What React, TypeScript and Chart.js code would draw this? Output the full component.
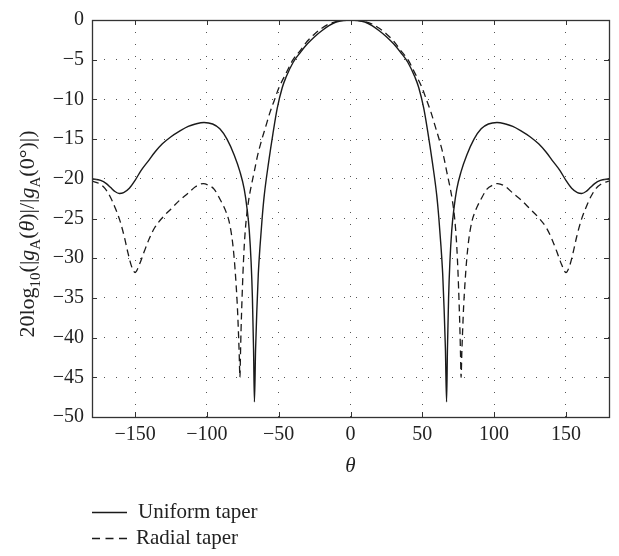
import React, { useEffect, useRef } from 'react';
import { Chart, registerables } from 'chart.js';

Chart.register(...registerables);

const xTickValues = [-150, -100, -50, 0, 50, 100, 150];
const yTickValues = [0, -5, -10, -15, -20, -25, -30, -35, -40, -45, -50];

const uniformTheta = [
  -180, -174, -170, -167, -164, -161, -158, -154, -150, -146, -141, -136, -131, -125, -119, -113, -108, -102,
  -96, -91, -86, -81, -77, -74, -72, -70.5, -69.2, -68.3, -67.5, -66.9, -66.1, -65.2, -64.2, -63, -61.5, -60,
  -57, -54, -51, -47.5, -45, -40, -35, -30, -25, -20, -15, -10, -5, 0,
  5, 10, 15, 20, 25, 30, 35, 40, 45, 47.5, 51, 54, 57, 60, 61.5, 63, 64.2, 65.2, 66.1, 66.9, 67.5, 68.3,
  69.2, 70.5, 72, 74, 77, 81, 86, 91, 96, 102, 108, 113, 119, 125, 131, 136, 141, 146, 150, 154, 158, 161,
  164, 167, 170, 174, 180,
];
const uniformDb = [
  -20.0, -20.2, -20.6, -21.1, -21.6, -21.85, -21.75, -21.2, -20.2, -19.0, -17.8, -16.6, -15.6, -14.7, -14.0, -13.4, -13.1, -12.9,
  -13.1, -13.7, -15.0, -17.0, -19.1, -21.3, -23.8, -26.5, -30.5, -35.0, -41.5, -48.1, -41.5, -36.5, -32.0, -28.5, -24.9, -22.0,
  -17.9, -14.3, -11.1, -8.5, -7.25, -5.35, -4.1, -3.0, -2.1, -1.35, -0.7, -0.25, -0.06, 0,
  -0.06, -0.25, -0.7, -1.35, -2.1, -3.0, -4.1, -5.35, -7.25, -8.5, -11.1, -14.3, -17.9, -22.0, -24.9, -28.5, -32.0, -36.5, -41.5, -48.1, -41.5, -35.0,
  -30.5, -26.5, -23.8, -21.3, -19.1, -17.0, -15.0, -13.7, -13.1, -12.9, -13.1, -13.4, -14.0, -14.7, -15.6, -16.6, -17.8, -19.0, -20.2, -21.2, -21.75, -21.85,
  -21.6, -21.1, -20.6, -20.2, -20.0,
];

const radialTheta = [
  -180, -175, -171, -167.5, -164, -160.5, -157.5, -155, -152.5, -150, -147, -143.5, -140, -136.5, -131, -125, -119, -113, -108, -102.5,
  -99, -95, -90.5, -88.5, -86.6, -84.5, -82.4, -80.9, -79.7, -78.8, -78.1, -77.5, -77.0, -76.6, -76.2, -75.6, -74.9, -74, -72.7, -71,
  -69, -67, -65, -62.3, -59, -56, -53, -50, -45, -40, -35, -30, -25, -20, -15, -10, -5, 0,
  5, 10, 15, 20, 25, 30, 35, 40, 45, 50, 53, 56, 59, 62.3, 65, 67, 69, 71, 72.7, 74, 74.9, 75.6, 76.2, 76.6, 77.0,
  77.5, 78.1, 78.8, 79.7, 80.9, 82.4, 84.5, 86.6, 88.5, 90.5, 95, 99, 102.5, 108, 113, 119, 125, 131, 136.5, 140,
  143.5, 147, 150, 152.5, 155, 157.5, 160.5, 164, 167.5, 171, 175, 180,
];
const radialDb = [
  -20.3, -20.6, -21.2, -22.2, -23.6, -25.3, -27.3, -29.3, -31.0, -31.8, -30.8, -29.1, -27.5, -26.2, -24.9, -23.8, -22.7, -21.8, -21.0, -20.6,
  -20.8, -21.3, -22.7, -23.4, -24.2, -25.4, -27.6, -30.2, -33.2, -36.0, -39.0, -42.0, -45.0, -42.0, -39.0, -35.5, -32.0, -28.5, -25.3, -22.8,
  -20.8, -19.1, -17.3, -15.4, -13.4, -11.6, -10.1, -8.6, -6.75, -5.0, -3.85, -2.65, -1.75, -1.05, -0.5, -0.2, -0.05, 0,
  -0.05, -0.2, -0.5, -1.05, -1.75, -2.65, -3.85, -5.0, -6.75, -8.6, -10.1, -11.6, -13.4, -15.4, -17.3, -19.1, -20.8, -22.8, -25.3, -28.5, -32.0, -35.5, -39.0, -42.0, -45.0,
  -42.0, -39.0, -36.0, -33.2, -30.2, -27.6, -25.4, -24.2, -23.4, -22.7, -21.3, -20.8, -20.6, -21.0, -21.8, -22.7, -23.8, -24.9, -26.2, -27.5,
  -29.1, -30.8, -31.8, -31.0, -29.3, -27.3, -25.3, -23.6, -22.2, -21.2, -20.6, -20.3,
];

const seriesNames = ['Uniform taper', 'Radial taper'];

const SERIF = '"Liberation Serif", "DejaVu Serif", serif';
const INK = '#222222';

const zip = (xs: number[], ys: number[]) => xs.map((x, i) => ({ x, y: ys[i] }));

const fmt = (v: number) => (v < 0 ? '\u2212' + Math.abs(v) : String(v));

const decorPlugin = {
  id: 'decor',
  afterDraw(chart: any) {
    const { ctx, chartArea: a, scales } = chart;
    const xs = scales.x;
    const ys = scales.y;
    ctx.save();
    // inner tick marks
    ctx.strokeStyle = '#333';
    ctx.lineWidth = 1;
    ctx.setLineDash([]);
    const tl = 5;
    ctx.beginPath();
    xTickValues.forEach((v) => {
      const px = Math.round(xs.getPixelForValue(v)) + 0.5;
      ctx.moveTo(px, a.bottom);
      ctx.lineTo(px, a.bottom - tl);
      ctx.moveTo(px, a.top);
      ctx.lineTo(px, a.top + tl);
    });
    yTickValues.forEach((v) => {
      const py = Math.round(ys.getPixelForValue(v)) + 0.5;
      ctx.moveTo(a.left, py);
      ctx.lineTo(a.left + tl, py);
      ctx.moveTo(a.right, py);
      ctx.lineTo(a.right - tl, py);
    });
    ctx.stroke();
    // frame
    ctx.strokeStyle = '#333';
    ctx.lineWidth = 1.3;
    ctx.strokeRect(Math.round(a.left) + 0.5, Math.round(a.top) + 0.5, Math.round(a.right - a.left), Math.round(a.bottom - a.top));

    ctx.fillStyle = INK;
    // x title
    ctx.font = `italic 21px ${SERIF}`;
    ctx.textAlign = 'center';
    ctx.textBaseline = 'middle';
    ctx.fillText('\u03b8', (a.left + a.right) / 2, 466);

    // y title (rotated, with subscripts)
    const size = 22;
    const subSize = Math.round(size * 0.7);
    const segs = [
      { t: '20log', s: 'n' },
      { t: '10', s: 'sub' },
      { t: '(|', s: 'n' },
      { t: 'g', s: 'i' },
      { t: 'A', s: 'sub' },
      { t: '(', s: 'n' },
      { t: '\u03b8', s: 'i' },
      { t: ')|/|', s: 'n' },
      { t: 'g', s: 'i' },
      { t: 'A', s: 'sub' },
      { t: '(0\u00b0)|)', s: 'n' },
    ];
    const fontFor = (s: string) =>
      s === 'sub' ? `${subSize}px ${SERIF}` : s === 'i' ? `italic ${size}px ${SERIF}` : `${size}px ${SERIF}`;
    let total = 0;
    const widths = segs.map((sg) => {
      ctx.font = fontFor(sg.s);
      const w = ctx.measureText(sg.t).width;
      total += w;
      return w;
    });
    ctx.save();
    ctx.translate(34, 234);
    ctx.rotate(-Math.PI / 2);
    ctx.textAlign = 'left';
    ctx.textBaseline = 'alphabetic';
    let u = -total / 2;
    segs.forEach((sg, i) => {
      ctx.font = fontFor(sg.s);
      ctx.fillText(sg.t, u, sg.s === 'sub' ? size * 0.28 : 0);
      u += widths[i];
    });
    ctx.restore();

    // legend
    const ds = chart.data.datasets;
    const rows = [512.5, 538.5];
    ds.forEach((d: any, i: number) => {
      const y = rows[i];
      ctx.beginPath();
      ctx.strokeStyle = d.borderColor;
      ctx.lineWidth = d.borderWidth;
      ctx.setLineDash(i === 1 ? [8, 5.5] : []);
      ctx.moveTo(92, y);
      ctx.lineTo(127, y);
      ctx.stroke();
      ctx.setLineDash([]);
      ctx.font = `21px ${SERIF}`;
      ctx.textAlign = 'left';
      ctx.textBaseline = 'middle';
      ctx.fillStyle = INK;
      ctx.fillText(d.label, i === 0 ? 138 : 136, y);
    });
    ctx.restore();
  },
};

export default function App() {
  const ref = useRef<HTMLCanvasElement>(null);
  useEffect(() => {
    const canvas = ref.current;
    if (!canvas) return;
    const chart = new Chart(canvas, {
      type: 'line',
      data: {
        datasets: [
          {
            label: seriesNames[0],
            data: zip(uniformTheta, uniformDb),
            borderColor: '#1a1a1a',
            borderWidth: 1.4,
            pointRadius: 0,
            fill: false,
            cubicInterpolationMode: 'monotone',
          },
          {
            label: seriesNames[1],
            data: zip(radialTheta, radialDb),
            borderColor: '#1a1a1a',
            borderWidth: 1.3,
            borderDash: [7, 4.5],
            pointRadius: 0,
            fill: false,
            cubicInterpolationMode: 'monotone',
          },
        ],
      },
      options: {
        animation: false,
        responsive: true,
        maintainAspectRatio: false,
        layout: { padding: { top: 11, right: 10, bottom: 0, left: 0 } },
        plugins: { legend: { display: false }, tooltip: { enabled: false } },
        scales: {
          x: {
            type: 'linear',
            min: -180,
            max: 180,
            afterBuildTicks: (s: any) => {
              s.ticks = xTickValues.map((v) => ({ value: v }));
            },
            afterFit: (s: any) => {
              s.height = 139;
            },
            grid: { color: '#555', lineWidth: 1, drawTicks: false },
            border: { display: false, dash: [1, 11] },
            ticks: {
              padding: 6,
              color: INK,
              font: { family: SERIF, size: 20 },
              maxRotation: 0,
              callback: (v: any) => fmt(Number(v)),
            },
          },
          y: {
            type: 'linear',
            min: -50,
            max: 0,
            afterBuildTicks: (s: any) => {
              s.ticks = yTickValues.map((v) => ({ value: v }));
            },
            afterFit: (s: any) => {
              s.width = 92;
            },
            grid: { color: '#555', lineWidth: 1, drawTicks: false },
            border: { display: false, dash: [1, 11] },
            ticks: {
              padding: 8,
              color: INK,
              font: { family: SERIF, size: 20 },
              callback: (v: any) => fmt(Number(v)),
            },
          },
        },
      },
      plugins: [decorPlugin],
    });
    return () => chart.destroy();
  }, []);
  return (
    <div style={{ position: 'fixed', left: 0, top: 0, width: 619, height: 556 }}>
      <canvas ref={ref} />
    </div>
  );
}
